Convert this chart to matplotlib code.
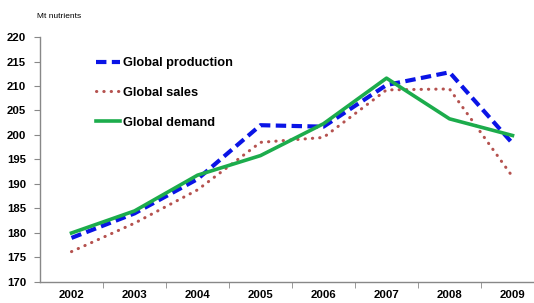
import matplotlib.pyplot as plt
from matplotlib.ticker import FixedLocator

years = [2002, 2003, 2004, 2005, 2006, 2007, 2008, 2009]
production = [179.0, 184.0, 191.0, 202.0, 201.7, 210.2, 212.8, 198.3]
sales = [176.2, 182.0, 188.8, 198.5, 199.5, 209.2, 209.4, 191.5]
demand = [180.0, 184.5, 191.8, 195.8, 202.3, 211.6, 203.3, 199.9]

plt.rcParams['font.family'] = ['Liberation Sans', 'DejaVu Sans']

fig = plt.figure(figsize=(5.34, 3.03), dpi=100)
ax = fig.add_axes([40 / 534, 21 / 303, 504 / 534, 245 / 303])

ax.plot(years, production, color='#0a14e6', lw=3, ls=(0, (2.5, 1.3)), label='Global production')
ax.plot(years, sales, color='#b5524f', lw=2.2, ls=(0, (0.1, 2.3)), dash_capstyle='round', label='Global sales')
ax.plot(years, demand, color='#1cac4c', lw=2.6, label='Global demand')

ax.set_xlim(2001.5, 2009.5)
ax.set_ylim(170, 220)
ax.set_yticks(range(170, 221, 5))
ax.set_xticks(years)
ax.tick_params(axis='x', which='major', length=0, pad=6)
ax.xaxis.set_minor_locator(FixedLocator([y + 0.5 for y in years]))
ax.tick_params(axis='x', which='minor', length=4, color='#888888', direction='out')
ax.tick_params(axis='y', length=4, color='#888888', direction='out', pad=6)
for lab in ax.get_xticklabels() + ax.get_yticklabels():
    lab.set_fontweight('bold')
    lab.set_fontsize(8.2)

for s in ['top', 'right']:
    ax.spines[s].set_visible(False)
for s in ['left', 'bottom']:
    ax.spines[s].set_color('#888888')
    ax.spines[s].set_linewidth(1)

fig.text(37 / 534, 1 - 17 / 303, 'Mt nutrients', fontsize=6, va='center', ha='left')

leg = ax.legend(loc='upper left', bbox_to_anchor=(0.088, 0.965), frameon=False,
                prop={'weight': 'bold', 'size': 9.2}, labelspacing=1.4,
                handlelength=1.9, handletextpad=0.2)

fig.savefig('out.png', dpi=100)
